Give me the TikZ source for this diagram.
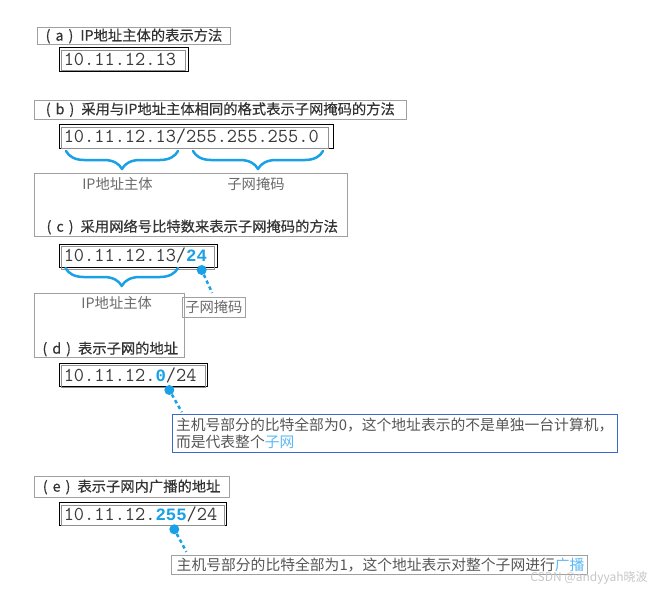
\documentclass[tikz,border=0pt]{standalone}
\usepackage{fontspec}
\setmainfont{Noto Sans CJK SC}
\newfontfamily\labfont[FakeBold=0.4]{Noto Sans CJK SC}
\newfontfamily\boldmono{Liberation Mono}
\usetikzlibrary{decorations.pathreplacing,calc}
\definecolor{cyanb}{HTML}{1AA0E6}
\definecolor{lightb}{HTML}{5CB8F2}
\definecolor{calloutb}{HTML}{3A68CC}
\definecolor{boxgray}{HTML}{A0A0A0}
\definecolor{innergray}{HTML}{909090}
\definecolor{labeltext}{HTML}{333333}
\definecolor{bodytext}{HTML}{6A6A6A}
\definecolor{calltext}{HTML}{555555}
\definecolor{addrtext}{HTML}{3A3A3A}
\definecolor{wmark}{HTML}{C6C6C6}
\newcommand\mylab[1]{(\hspace{5pt}#1\hspace{5pt})\hspace{7pt}}
\newcommand\hl[1]{{\boldmono\bfseries\fontsize{17.3}{20}\selectfont\color{cyanb}#1}}
\begin{document}
\begin{tikzpicture}[x=1pt,y=-1pt,
  lbl/.style={draw=boxgray, line width=0.8pt, inner sep=0pt, text=labeltext,
    font=\labfont\fontsize{14.3}{17}\selectfont},
  bigbox/.style={draw=boxgray, line width=0.8pt, inner sep=0pt},
  ltext/.style={inner sep=0pt, text=labeltext, font=\labfont\fontsize{14.3}{17}\selectfont},
  btext/.style={inner sep=0pt, text=bodytext, font=\fontsize{14.3}{17}\selectfont},
  addr/.style={draw=black, line width=1pt, inner xsep=4.5pt, inner ysep=0pt,
    align=left, text=addrtext, font=\ttfamily\fontsize{19.8}{22}\selectfont},
  inner/.style={draw=innergray, line width=0.8pt},
  bracestyle/.style={draw=cyanb, line width=2.5pt, line cap=round, line join=round,
    decorate, decoration={brace, mirror, amplitude=18pt}},
  dot/.style={circle, fill=cyanb, inner sep=0pt, minimum size=10pt},
  dotline/.style={draw=cyanb, line width=2.5pt, dash pattern=on 3.5pt off 3pt},
  callout/.style={line width=1pt, inner ysep=0pt, align=left, text=calltext,
    font=\fontsize{14.8}{16.7}\selectfont}
]
\useasboundingbox (0,0) rectangle (647,589);

% (a)
\node[lbl, minimum width=193.4pt, minimum height=16.6pt] (la) at (134,36) {\mylab{a}IP地址主体的表示方法};
\node[addr, minimum height=24pt, text width=120pt] (aa) at (123.8,59.7) {10.11.12.13};
\draw[inner] ($(aa.north west)+(3,3)$) rectangle ($(aa.south east)+(-3,-1.5)$);

% (b)
\node[lbl, minimum width=372.7pt, minimum height=19.3pt] (lb) at (220.35,109.65) {\mylab{b}采用与IP地址主体相同的格式表示子网掩码的方法};
\node[addr, minimum height=23.8pt, text width=265.2pt] (ab) at (196.4,136.4) {10.11.12.13/255.255.255.0};
\draw[inner] ($(ab.north west)+(3,3)$) rectangle ($(ab.south east)+(-6,-0.8)$);
\coordinate (b1l) at (66,151);
\coordinate (b1r) at (178,151);
\coordinate (b2l) at (193,151);
\coordinate (b2r) at (323,151);
\draw[bracestyle] (b1l) -- (b1r);
\draw[bracestyle] (b2l) -- (b2r);
\node[bigbox, minimum width=313pt, minimum height=62.7pt] (bc) at (190.8,204.65) {};
\node[btext] (tb1) at (117.5,184) {IP地址主体};
\node[btext] (tb2) at (256,184) {子网掩码};

% (c)
\node[ltext] (lc) at (192.3,227) {\mylab{c}采用网络号比特数来表示子网掩码的方法};
\node[addr, minimum height=23pt, text width=148.7pt] (ac) at (138.15,255.5) {10.11.12.13/\hl{24}};
\draw[inner] ($(ac.north west)+(3,3)$) rectangle ($(ac.south east)+(-3,1.5)$);
\coordinate (b3l) at (65.5,268);
\coordinate (b3r) at (178,268);
\draw[bracestyle] (b3l) -- (b3r);
\node[bigbox, minimum width=150pt, minimum height=64.7pt] (cd) at (109.3,325.35) {};
\node[btext] (tc1) at (116.7,302.7) {IP地址主体};
\node[bigbox, minimum width=62.3pt, minimum height=20.3pt, text=bodytext,
  font=\fontsize{14.3}{17}\selectfont] (mc) at (213.85,307.15) {子网掩码};
\node[dot] (dc) at (201.7,270) {};
\draw[dotline, shorten >=4pt] (dc) -- (mc.north);

% (d)
\node[ltext] (ld) at (110.3,349) {\mylab{d}表示子网的地址};
\node[addr, minimum height=23.4pt, text width=139.4pt] (ad) at (133.5,375) {10.11.12.\hl{0}/24};
\draw[inner] ($(ad.north west)+(3,3)$) rectangle ($(ad.south east)+(-3,0)$);
\node[callout, draw=calloutb, minimum width=444.7pt, minimum height=38pt,
  inner xsep=3.7pt, text width=437.3pt] (cld) at (394.65,433.3)
  {主机号部分的比特全部为0，这个地址表示的不是单独一台计算机，\\而是代表整个{\color{lightb}子网}};
\node[dot] (dd) at (169.3,390) {};
\coordinate (td) at ($(cld.north west)+(11,0)$);
\draw[dotline, shorten >=2pt] (dd) -- (td);

% (e)
\node[lbl, minimum width=194.7pt, minimum height=20.6pt] (le) at (131.65,487) {\mylab{e}表示子网内广播的地址};
\node[addr, minimum height=22.8pt, text width=158.4pt] (ae) at (143,514.1) {10.11.12.\hl{255}/24};
\draw[inner] ($(ae.north west)+(3,3)$) rectangle ($(ae.south east)+(-3,-0.5)$);
\node[callout, draw=boxgray, minimum width=415.3pt, minimum height=19pt,
  inner xsep=5pt, text width=405.3pt] (cle) at (379.35,564.5)
  {主机号部分的比特全部为1，这个地址表示对整个子网进行{\color{lightb}广播}};
\node[dot] (de) at (174.3,529.3) {};
\coordinate (te) at ($(cle.north west)+(16.6,0)$);
\draw[dotline, shorten >=3pt] (de) -- (te);

% watermark
\node[inner sep=0pt, text=wmark, font=\fontsize{12}{14}\selectfont] (wm) at (589,578) {CSDN @andyyah晓波};
\end{tikzpicture}
\end{document}
